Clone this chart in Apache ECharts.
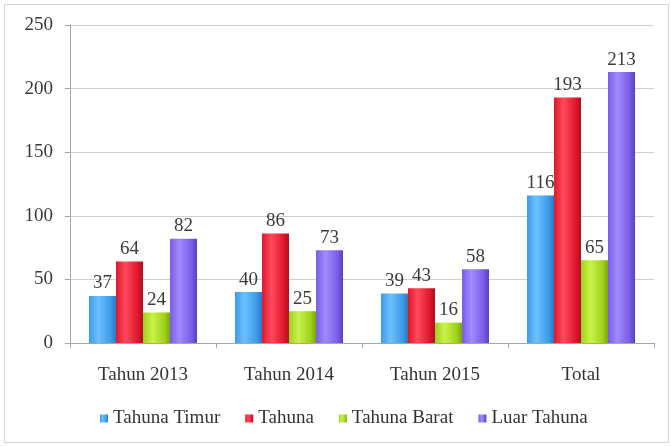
<!DOCTYPE html>
<html>
<head>
<meta charset="utf-8">
<script src="https://cdn.jsdelivr.net/npm/echarts@6/dist/echarts.min.js"></script>
<style>
  html, body { margin: 0; padding: 0; background: #fff; }
  #frame { position: absolute; left: 4px; top: 4px; width: 663px; height: 437px; border: 1px solid #d4d4d4; }
  #chart { position: absolute; left: 0; top: 0; width: 671px; height: 446px; }
</style>
</head>
<body>
<div id="frame"></div>
<div id="chart"></div>
<script>
  var categories = ['Tahun 2013', 'Tahun 2014', 'Tahun 2015', 'Total'];
  var tahunaTimur = [37, 40, 39, 116];
  var tahuna = [64, 86, 43, 193];
  var tahunaBarat = [24, 25, 16, 65];
  var luarTahuna = [82, 73, 58, 213];
  var yTicks = [0, 50, 100, 150, 200, 250];

  var serif = '"Liberation Serif", "DejaVu Serif", serif';

  function glossy(light, mid, dark) {
    return {
      type: 'linear', x: 0, y: 0, x2: 1, y2: 0,
      colorStops: [
        { offset: 0, color: mid },
        { offset: 0.35, color: light },
        { offset: 0.8, color: mid },
        { offset: 1, color: dark }
      ]
    };
  }

  function makeSeries(name, data, fill) {
    return {
      name: name,
      type: 'bar',
      data: data,
      barGap: '0%',
      barCategoryGap: '26%',
      itemStyle: { color: fill },
      label: {
        show: true,
        position: 'top',
        distance: 3,
        color: '#3a3a3a',
        fontFamily: serif,
        fontSize: 19
      }
    };
  }

  var chart = echarts.init(document.getElementById('chart'), null, { renderer: 'canvas' });

  chart.setOption({
    animation: false,
    backgroundColor: 'transparent',
    grid: { left: 70, right: 17, top: 25, bottom: 103 },
    legend: {
      top: 404,
      left: 95,
      itemWidth: 8,
      itemHeight: 8,
      itemGap: 25,
      icon: 'rect',
      textStyle: { fontFamily: serif, fontSize: 19, color: '#333' },
      data: ['Tahuna Timur', 'Tahuna', 'Tahuna Barat', 'Luar Tahuna']
    },
    xAxis: {
      type: 'category',
      data: categories,
      axisLine: { lineStyle: { color: '#a6a6a6' } },
      axisTick: { show: true, length: 5, lineStyle: { color: '#a6a6a6' } },
      axisLabel: { fontFamily: serif, fontSize: 19, color: '#333', margin: 23 }
    },
    yAxis: {
      type: 'value',
      min: yTicks[0],
      max: yTicks[yTicks.length - 1],
      interval: 50,
      axisLine: { show: true, lineStyle: { color: '#a6a6a6' } },
      axisTick: { show: true, length: 5, lineStyle: { color: '#a6a6a6' } },
      axisLabel: { fontFamily: serif, fontSize: 19, color: '#3a3a3a', margin: 17 },
      splitLine: { lineStyle: { color: '#d0d0d0' } }
    },
    series: [
      makeSeries('Tahuna Timur', tahunaTimur, glossy('#6cc0ff', '#3d9be9', '#2a78c4')),
      makeSeries('Tahuna', tahuna, glossy('#ff4a5c', '#e0172d', '#b30d1e')),
      makeSeries('Tahuna Barat', tahunaBarat, glossy('#c9f24a', '#9fd11a', '#79a80c')),
      makeSeries('Luar Tahuna', luarTahuna, glossy('#a08bff', '#7a5ce6', '#5a3fc4'))
    ]
  });
</script>
</body>
</html>
